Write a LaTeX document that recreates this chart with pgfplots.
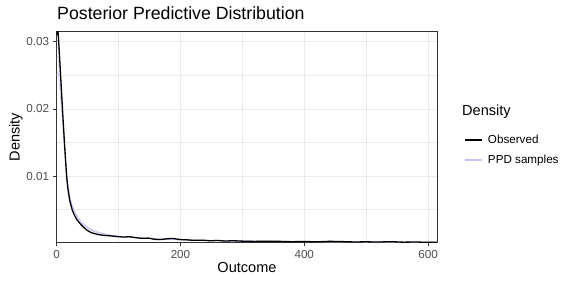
\documentclass[border=0pt]{standalone}
\usepackage{fontspec}
\setmainfont{Liberation Sans}
\usepackage{pgfplots}
\pgfplotsset{compat=1.18}
\definecolor{ppd}{RGB}{200,194,243}
\definecolor{gridc}{RGB}{235,235,235}
\definecolor{tickc}{RGB}{77,77,77}
\definecolor{borderc}{RGB}{51,51,51}
\begin{document}
\begin{tikzpicture}
\path[use as bounding box] (0,0) rectangle (576bp,288bp);
\begin{axis}[
  at={(56.7bp,45.3bp)}, anchor=south west,
  scale only axis, width=380.6bp, height=211bp,
  xmin=0, xmax=615, ymin=0.00007, ymax=0.0315,
  xtick={0,200,400,600}, ytick={0.01,0.02,0.03},
  minor xtick={100,300,500}, minor ytick={0.005,0.015,0.025},
  yticklabels={0.01,0.02,0.03},
  scaled y ticks=false,
  xmajorgrids, ymajorgrids, xminorgrids, yminorgrids,
  major grid style={gridc, line width=0.7bp},
  minor grid style={gridc, line width=0.35bp},
  axis line style={borderc, line width=0.6bp},
  tick style={borderc, line width=0.6bp},
  tick align=outside, major tick length=3.6bp, minor tick length=0pt,
  xtick pos=bottom, ytick pos=left,
  /pgf/number format/assume math mode=true,
  tick label style={font=\fontsize{11.7}{13}\selectfont, text=tickc},
  xticklabel style={yshift=-0.5bp},
  yticklabel style={xshift=-0.5bp},
  xlabel={Outcome}, ylabel={Density},
  label style={font=\fontsize{14.6}{16}\selectfont},
  xlabel style={yshift=3bp},
  ylabel style={yshift=-3bp},
  legend style={at={(1.068,0.518)}, anchor=north west, draw=none, fill=none,
    font=\fontsize{11.7}{13}\selectfont, row sep=7bp,
    inner sep=0pt, nodes={inner sep=1.5bp, inner xsep=4.5bp}},
  legend image code/.code={\draw[#1] (0bp,0bp) -- (17.5bp,0bp);},
  legend cell align=left,
  clip mode=individual,
]
% PPD samples
\addplot[ppd, line width=0.6bp, opacity=0.8, forget plot] coordinates {
(0,0.0290) (2,0.0292) (4,0.0272) (6,0.0245) (8,0.0215) (10,0.0185) (12,0.0156) (14,0.0130) (16,0.0108) (18,0.0090) (21,0.0071) (25,0.0056) (30,0.0045) (35,0.0037) (40,0.0031) (46,0.0026) (52,0.0022) (60,0.0018) (70,0.0015) (80,0.0013) (90,0.00115) (100,0.0010) (120,0.00088) (140,0.00075) (160,0.00064) (180,0.00056) (200,0.0005) (230,0.00043) (260,0.00038) (300,0.00032) (350,0.00027) (400,0.00023) (450,0.0002) (500,0.00018) (550,0.00016) (615,0.00014)};
\addplot[ppd, line width=0.6bp, opacity=0.8, forget plot] coordinates {
(0,0.0250) (2,0.0255) (4,0.0240) (6,0.0220) (8,0.0196) (10,0.0170) (12,0.0145) (14,0.0122) (16,0.0102) (18,0.0086) (21,0.0069) (25,0.0055) (30,0.0044) (35,0.0036) (40,0.0030) (46,0.0025) (52,0.0021) (60,0.0017) (70,0.00145) (80,0.00125) (90,0.0011) (100,0.00098) (120,0.00085) (140,0.00073) (160,0.00062) (180,0.00055) (200,0.00049) (230,0.00042) (260,0.00037) (300,0.00031) (350,0.00026) (400,0.00022) (450,0.0002) (500,0.00017) (550,0.00015) (615,0.00013)};
\addplot[ppd, line width=0.6bp, opacity=0.8, forget plot] coordinates {
(0,0.0275) (2,0.0278) (4,0.0260) (6,0.0236) (8,0.0208) (10,0.0180) (12,0.0152) (14,0.0127) (16,0.0106) (18,0.0088) (21,0.0070) (25,0.0056) (30,0.0046) (35,0.0038) (40,0.0032) (46,0.0027) (52,0.0023) (60,0.0019) (70,0.0016) (80,0.00135) (90,0.0012) (100,0.00105) (120,0.0009) (140,0.00077) (160,0.00066) (180,0.00058) (200,0.00051) (230,0.00044) (260,0.00039) (300,0.00033) (350,0.00028) (400,0.00024) (450,0.00021) (500,0.00018) (550,0.00016) (615,0.00014)};
\addplot[ppd, line width=0.6bp, opacity=0.8, forget plot] coordinates {
(0,0.0300) (2,0.0302) (4,0.0280) (6,0.0250) (8,0.0218) (10,0.0186) (12,0.0157) (14,0.0130) (16,0.0107) (18,0.0089) (21,0.0070) (25,0.0055) (30,0.0044) (35,0.0036) (40,0.0030) (46,0.0025) (52,0.0021) (60,0.00175) (70,0.0015) (80,0.0013) (90,0.00115) (100,0.001) (120,0.00086) (140,0.00074) (160,0.00063) (180,0.00055) (200,0.00049) (230,0.00043) (260,0.00037) (300,0.00032) (350,0.00027) (400,0.00023) (450,0.0002) (500,0.00017) (550,0.00015) (615,0.00013)};
% Observed
\addplot[black, line width=1.3bp, smooth, tension=0.3, forget plot] coordinates {
(0,0.0310) (2,0.0316) (4,0.0288) (6,0.0255) (8,0.0222) (10,0.0189) (12,0.0158) (14,0.0128) (16,0.0100) (18,0.0082) (21,0.0064) (25,0.0050) (28,0.0043) (32,0.0036) (37,0.0030) (42,0.0025) (48,0.0020) (55,0.0016) (62,0.0014) (69,0.00125) (78,0.00115) (88,0.00108) (98,0.00098) (108,0.00092) (118,0.00095) (128,0.00082) (138,0.00072) (148,0.00075) (158,0.00058) (168,0.00055) (178,0.00065) (188,0.0007) (198,0.00055) (210,0.0005) (222,0.00042) (235,0.00045) (248,0.00036) (260,0.0004) (272,0.00032) (285,0.00036) (300,0.0003) (320,0.00026) (340,0.0003) (360,0.00027) (380,0.00022) (400,0.00025) (420,0.0002) (440,0.00027) (460,0.00024) (480,0.00018) (500,0.0002) (520,0.00017) (540,0.00022) (560,0.00015) (580,0.00017) (600,0.00012) (615,0.00012)};
\addlegendimage{black, line width=2.6bp}
\addlegendentry{Observed}
\addlegendimage{ppd, line width=2.2bp}
\addlegendentry{PPD samples}
\end{axis}
\node[anchor=base west, inner sep=0pt, font=\fontsize{17.8}{19}\selectfont] at (57bp,268.5bp) {Posterior Predictive Distribution};
\node[anchor=base west, inner sep=0pt, font=\fontsize{14.6}{16}\selectfont] at (462bp,172bp) {Density};
\end{tikzpicture}
\end{document}
